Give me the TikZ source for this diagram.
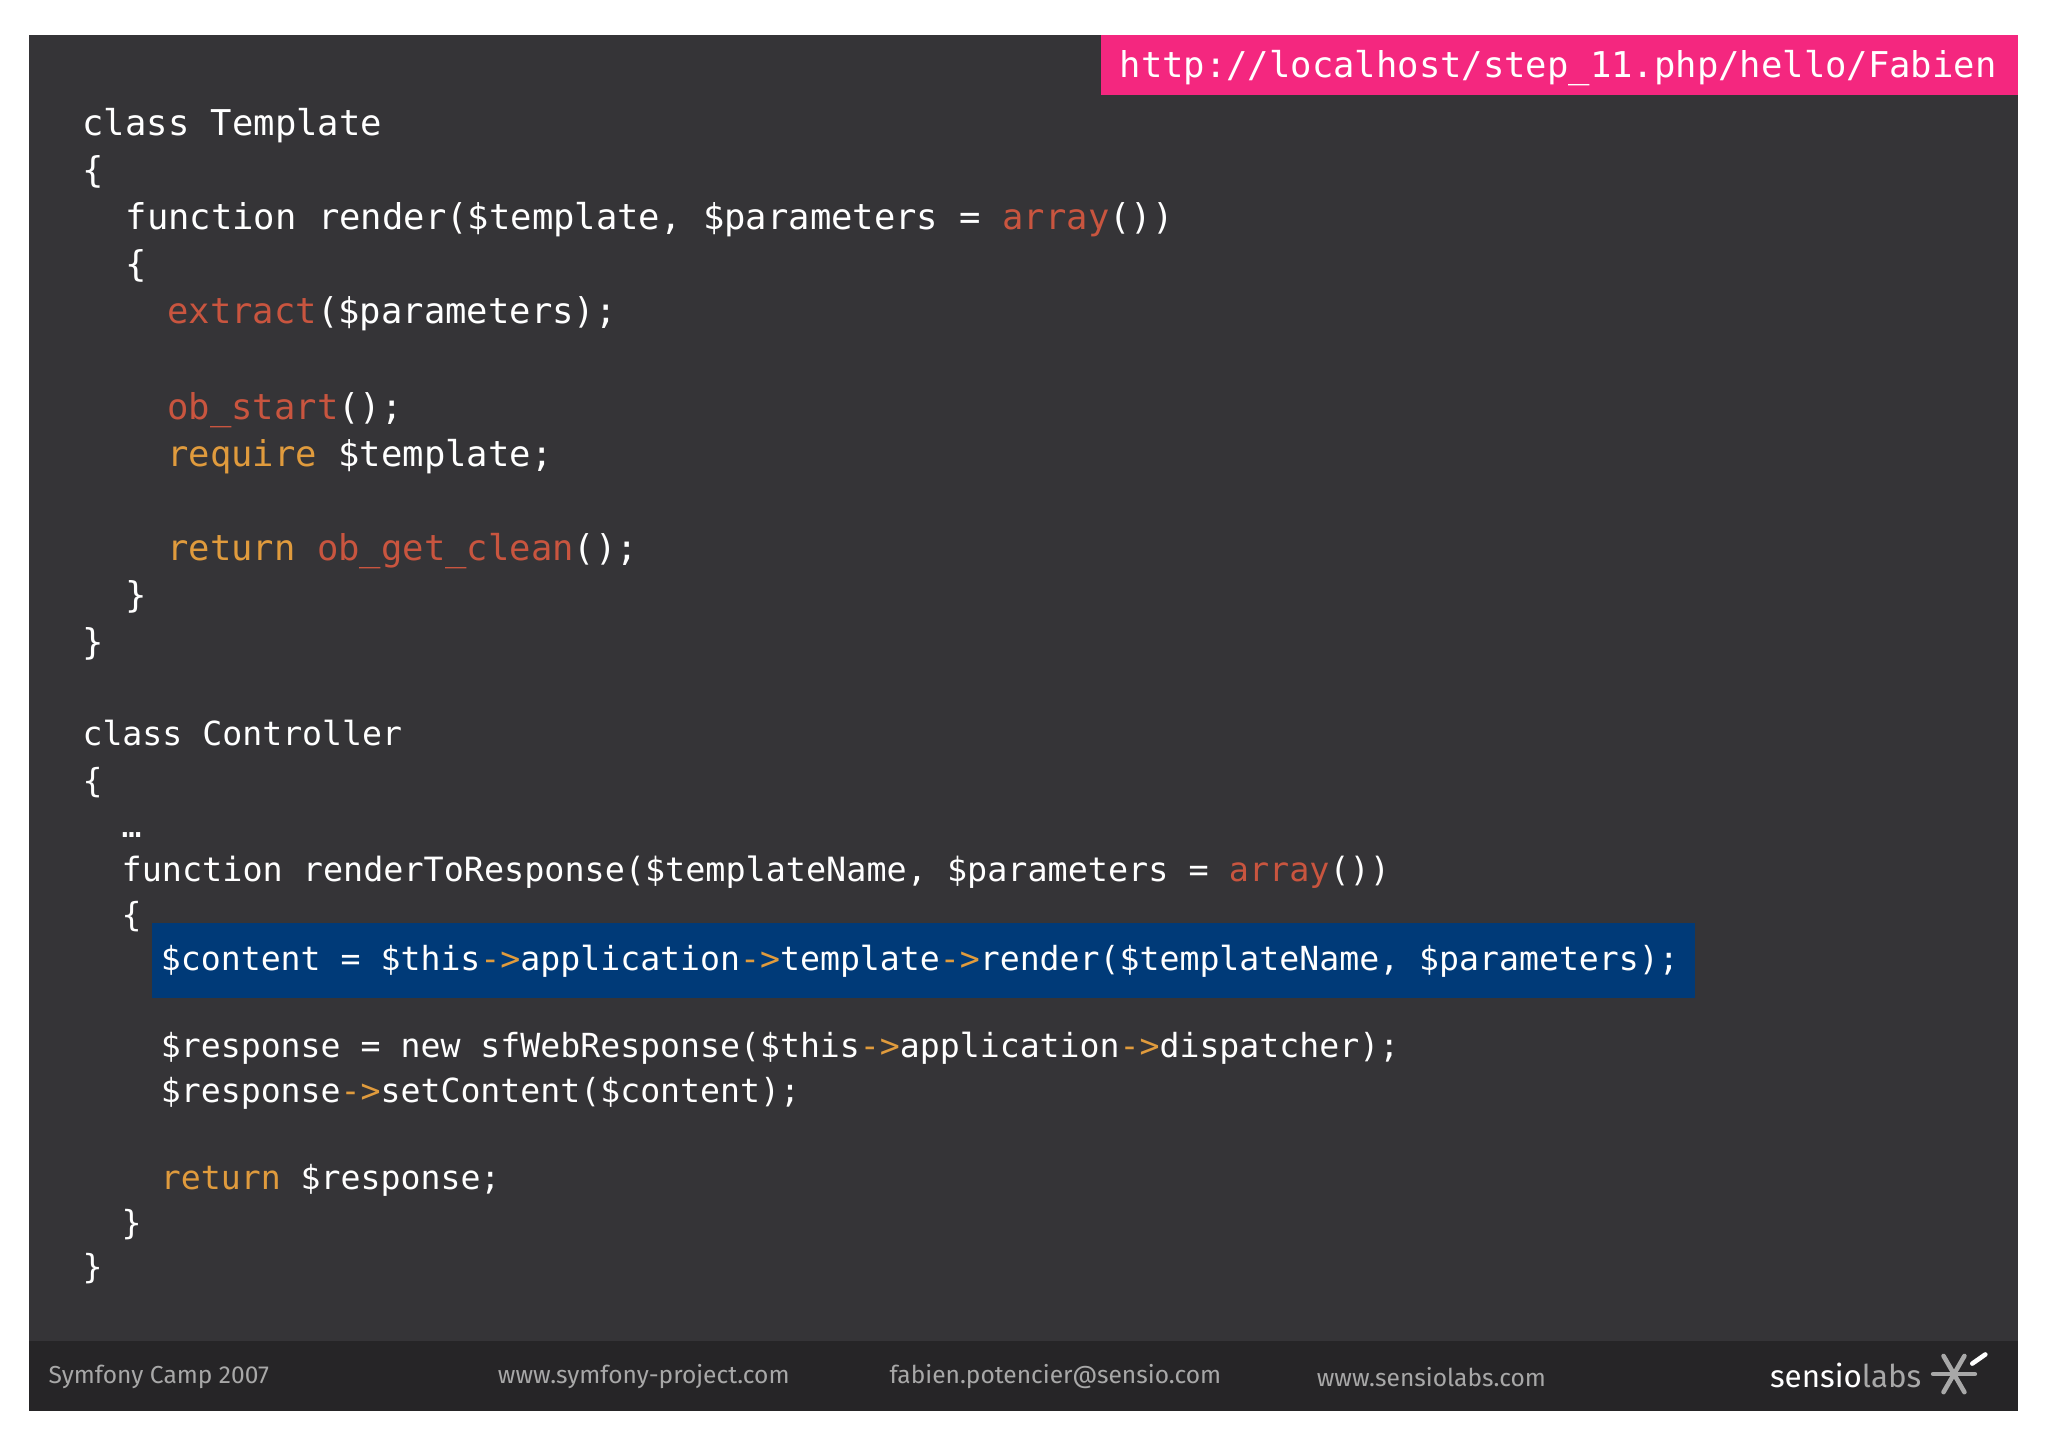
\documentclass[tikz,border=0pt]{standalone}
\usepackage{fontspec}
\setmainfont{Fira Sans}
\newfontfamily\codefont{DejaVu Sans Mono}
\definecolor{bg}{HTML}{353437}
\definecolor{foot}{HTML}{262527}
\definecolor{fn}{HTML}{C9553F}
\definecolor{kw}{HTML}{E09B3D}
\definecolor{hl}{HTML}{003A78}
\definecolor{pink}{HTML}{F4277F}
\definecolor{ft}{HTML}{A8A8A8}
\newcommand{\F}[1]{\textcolor{fn}{#1}}
\newcommand{\K}[1]{\textcolor{kw}{#1}}
\newcommand{\A}{\textcolor{kw}{->}}
\tikzset{code/.style={anchor=base west,inner sep=0pt,text=white,font=\codefont\fontsize{#1}{#1}\selectfont},
 code/.default=27.2,
 codeb/.style={code=25.4},
 foottext/.style={anchor=west,inner sep=0pt,text=ft,font=\fontsize{18.8}{18.8}\selectfont}}
\begin{document}
\begin{tikzpicture}[x=1pt,y=-1pt]
\useasboundingbox (0,0) rectangle (1568,1107);
\fill[white] (0,0) rectangle (1568,1107);
\fill[bg] (22,27) rectangle (1545,1080);
\fill[foot] (22,1027) rectangle (1545,1080);
\fill[pink] (843,27) rectangle (1545,73);
\node[code=27.2] (url) at (857,59) {http://localhost/step\_11.php/hello/Fabien};
\node[code] (l1) at (63,104) {class Template};
\node[code] (l2) at (63,140) {\{};
\node[code] (l3) at (96,176) {function render(\$template, \$parameters = \F{array}())};
\node[code] (l4) at (96,212) {\{};
\node[code] (l5) at (128,248) {\F{extract}(\$parameters);};
\node[code] (l6) at (128,321) {\F{ob\_start}();};
\node[code] (l7) at (128,357) {\K{require} \$template;};
\node[code] (l8) at (128,429) {\K{return} \F{ob\_get\_clean}();};
\node[code] (l9) at (96,465) {\}};
\node[code] (l10) at (63,501) {\}};
\node[codeb] (m1) at (63,571) {class Controller};
\node[codeb] (m2) at (63,607) {\{};
\node[codeb] (m3) at (93,641) {…};
\node[code=25.6] (m4) at (93,675) {function renderToResponse(\$templateName, \$parameters = \F{array}())};
\node[codeb] (m5) at (93,709) {\{};
\fill[hl] (116,707) rectangle (1298,764);
\node[codeb] (m6) at (123,743) {\$content = \$this\A application\A template\A render(\$templateName, \$parameters);};
\node[codeb] (m7) at (123,810) {\$response = new sfWebResponse(\$this\A application\A dispatcher);};
\node[codeb] (m8) at (123,844) {\$response\A setContent(\$content);};
\node[codeb] (m9) at (123,911) {\K{return} \$response;};
\node[codeb] (m10) at (93,945) {\}};
\node[codeb] (m11) at (63,979) {\}};
\node[foottext] (f1) at (37,1054) {Symfony Camp 2007};
\node[foottext] (f2) at (381,1054) {www.symfony-project.com};
\node[foottext] (f3) at (681,1054) {fabien.potencier@sensio.com};
\node[foottext] (f4) at (1008,1054) {www.sensiolabs.com};
\node[anchor=west,inner sep=0pt,font=\fontsize{24}{24}\selectfont] (logo) at (1355,1053) {\textcolor{white}{sensio}\textcolor{ft}{labs}};
\begin{scope}[shift={(1496,1052)},line width=3.5pt,line cap=round,draw=ft]
\foreach \a in {0,60,120,180,240,300}{\draw (0,0) -- (\a:16);}
\draw[white] (14,-8) -- (24,-15);
\end{scope}
\end{tikzpicture}
\end{document}
